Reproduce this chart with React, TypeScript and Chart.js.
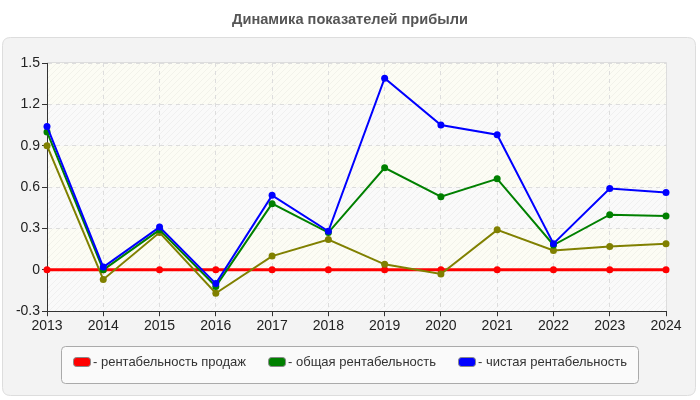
import React, { useEffect, useRef } from "react";
import { Chart, registerables } from "chart.js";

Chart.register(...registerables);

const years = ["2013", "2014", "2015", "2016", "2017", "2018", "2019", "2020", "2021", "2022", "2023", "2024"];
const salesReturn = [0, 0, 0, 0, 0, 0, 0, 0, 0, 0, 0, 0];
const totalReturn = [1.0, 0.0, 0.29, -0.12, 0.48, 0.27, 0.74, 0.53, 0.66, 0.18, 0.4, 0.39];
const netReturn = [1.04, 0.02, 0.31, -0.1, 0.54, 0.28, 1.39, 1.05, 0.98, 0.19, 0.59, 0.56];
const fourthSeries = [0.9, -0.07, 0.27, -0.17, 0.1, 0.22, 0.04, -0.03, 0.29, 0.14, 0.17, 0.19];
const yTicks = [-0.3, 0, 0.3, 0.6, 0.9, 1.2, 1.5];
const legendLabels = ["- рентабельность продаж", "- общая рентабельность", "- чистая рентабельность"];
const titleText = "Динамика показателей прибыли";
const FONT = "'Liberation Sans', Arial, sans-serif";

function roundRect(ctx: CanvasRenderingContext2D, x: number, y: number, w: number, h: number, r: number) {
  ctx.beginPath();
  ctx.moveTo(x + r, y);
  ctx.lineTo(x + w - r, y);
  ctx.quadraticCurveTo(x + w, y, x + w, y + r);
  ctx.lineTo(x + w, y + h - r);
  ctx.quadraticCurveTo(x + w, y + h, x + w - r, y + h);
  ctx.lineTo(x + r, y + h);
  ctx.quadraticCurveTo(x, y + h, x, y + h - r);
  ctx.lineTo(x, y + r);
  ctx.quadraticCurveTo(x, y, x + r, y);
  ctx.closePath();
}

const decorPlugin = {
  id: "decor",
  beforeDraw(chart: any) {
    const ctx: CanvasRenderingContext2D = chart.ctx;
    const { left, right, top, bottom } = chart.chartArea;
    ctx.save();
    // title
    ctx.fillStyle = "#555";
    ctx.font = `bold 14.6px ${FONT}`;
    ctx.textAlign = "center";
    ctx.textBaseline = "middle";
    ctx.fillText(titleText, 350, 20);
    // panel
    roundRect(ctx, 2.5, 37.5, 693, 358, 8);
    ctx.fillStyle = "#f3f3f3";
    ctx.fill();
    ctx.strokeStyle = "#dddddd";
    ctx.lineWidth = 1;
    ctx.stroke();
    // plot bands
    const ys = chart.scales.y;
    for (let i = 0; i < yTicks.length - 1; i++) {
      const y1 = ys.getPixelForValue(yTicks[i + 1]);
      const y0 = ys.getPixelForValue(yTicks[i]);
      const idxFromTop = yTicks.length - 2 - i;
      ctx.fillStyle = idxFromTop % 2 === 0 ? "#fcfcf4" : "#fafafa";
      ctx.fillRect(left, y1, right - left, y0 - y1);
    }
    // hatching
    const pc = document.createElement("canvas");
    pc.width = 6;
    pc.height = 6;
    const pctx = pc.getContext("2d")!;
    pctx.strokeStyle = "rgba(0,0,0,0.04)";
    pctx.lineWidth = 1;
    pctx.beginPath();
    pctx.moveTo(0, 6);
    pctx.lineTo(6, 0);
    pctx.moveTo(-1, 1);
    pctx.lineTo(1, -1);
    pctx.moveTo(5, 7);
    pctx.lineTo(7, 5);
    pctx.stroke();
    const pat = ctx.createPattern(pc, "repeat");
    if (pat) {
      ctx.fillStyle = pat;
      ctx.fillRect(left, top, right - left, bottom - top);
    }
    // top/right plot border
    ctx.strokeStyle = "#dddddd";
    ctx.beginPath();
    ctx.moveTo(left, Math.round(top) - 0.5);
    ctx.lineTo(Math.round(right) + 0.5, Math.round(top) - 0.5);
    ctx.lineTo(Math.round(right) + 0.5, bottom);
    ctx.stroke();

    // custom legend
    ctx.font = `13px ${FONT}`;
    const boxW = 17;
    const gap = 3;
    const itemGap = 22;
    const widths = legendLabels.map((t) => ctx.measureText(t).width);
    const total = widths.reduce((a, w) => a + boxW + gap + w, 0) + itemGap * (legendLabels.length - 1);
    let x = Math.round(350 - total / 2);
    const cy = 362;
    roundRect(ctx, x - 12 + 0.5, 346.5, Math.round(total) + 23, 37, 4);
    ctx.fillStyle = "#fafafa";
    ctx.fill();
    ctx.strokeStyle = "#aaaaaa";
    ctx.stroke();
    const colors = chart.data.datasets.slice(0, 3).map((d: any) => d.borderColor);
    legendLabels.forEach((t, i) => {
      roundRect(ctx, x + 0.5, cy - 4.5, boxW, 9, 3);
      ctx.fillStyle = colors[i];
      ctx.fill();
      ctx.strokeStyle = "#888";
      ctx.lineWidth = 1;
      ctx.stroke();
      ctx.fillStyle = "#333";
      ctx.textAlign = "left";
      ctx.textBaseline = "middle";
      ctx.fillText(t, x + boxW + gap, cy);
      x += boxW + gap + widths[i] + itemGap;
    });
    ctx.restore();
  },
};

export default function App() {
  const ref = useRef<HTMLCanvasElement | null>(null);
  useEffect(() => {
    document.body.style.margin = "0";
    const canvas = ref.current!;
    const mk = (label: string, data: number[], color: string, width: number, order: number) => ({
      label,
      data,
      borderColor: color,
      backgroundColor: color,
      pointBackgroundColor: color,
      pointBorderColor: color,
      borderWidth: width,
      pointRadius: 3.5,
      pointBorderWidth: 0,
      tension: 0,
      fill: false,
      order,
    });
    const chart = new Chart(canvas, {
      type: "line",
      data: {
        labels: years,
        datasets: [
          mk(legendLabels[0], salesReturn, "#ff0000", 3, 4),
          mk(legendLabels[1], totalReturn, "#008000", 2, 2),
          mk(legendLabels[2], netReturn, "#0000ff", 2, 1),
          mk("", fourthSeries, "#808000", 2, 3),
        ],
      },
      options: {
        responsive: false,
        animation: false,
        devicePixelRatio: 1,
        layout: { padding: { top: 63, left: 0, right: 34, bottom: 63 } },
        plugins: {
          title: { display: false },
          tooltip: { enabled: false },
          legend: { display: false },
        },
        scales: {
          x: {
            offset: false,
            grid: {
              color: "#dddddd",
              tickColor: "#333",
              tickLength: 5,
              drawOnChartArea: true,
            },
            border: { color: "#333", dash: [4, 4] as any, display: true },
            ticks: { color: "#222", font: { family: FONT, size: 14 }, padding: 2, maxRotation: 0, autoSkip: false },
          },
          y: {
            min: -0.3,
            max: 1.5,
            afterFit: (s: any) => {
              s.width = 47;
            },
            afterBuildTicks: (s: any) => {
              s.ticks = yTicks.map((v) => ({ value: v }));
            },
            grid: { color: "#dddddd", tickColor: "#333", tickLength: 5 },
            border: { color: "#333", dash: [4, 4] as any },
            ticks: {
              color: "#222",
              font: { family: FONT, size: 14 },
              padding: 2,
              callback: (v: any) => String(Math.round(Number(v) * 10) / 10),
            },
          },
        },
      } as any,
      plugins: [decorPlugin],
    });
    return () => chart.destroy();
  }, []);
  return (
    <div style={{ position: "fixed", left: 0, top: 0, width: 700, height: 400 }}>
      <canvas ref={ref} width={700} height={400} />
    </div>
  );
}
